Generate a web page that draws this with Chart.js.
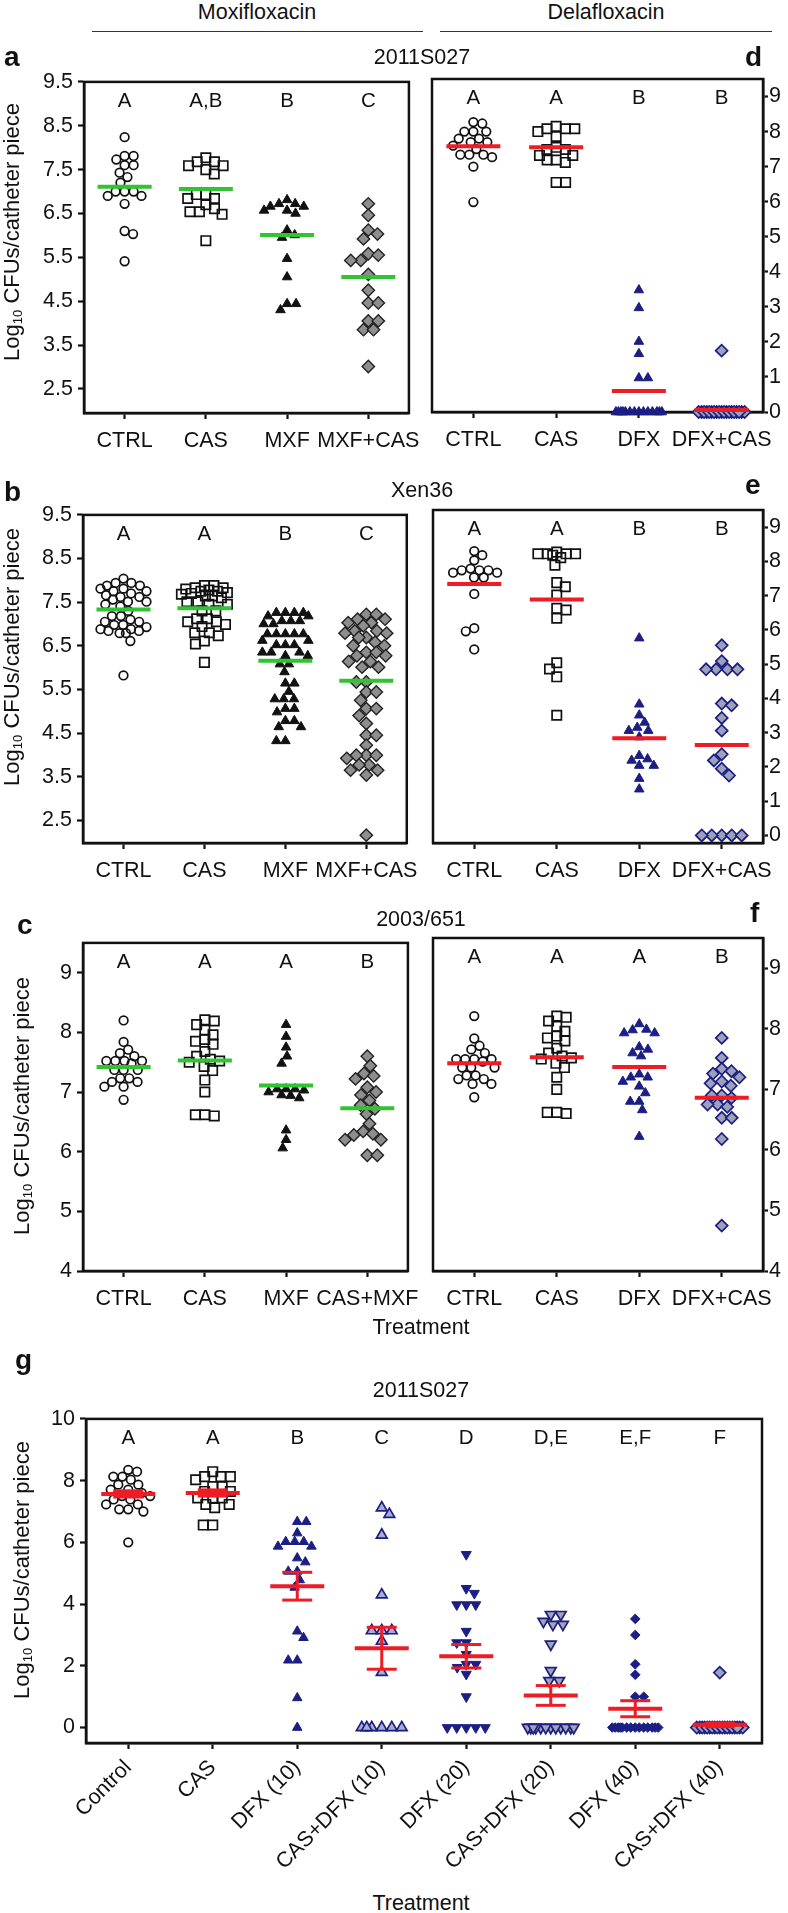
<!DOCTYPE html>
<html>
<head>
<meta charset="utf-8">
<script src="https://cdn.jsdelivr.net/npm/chart.js@4.4.1/dist/chart.umd.min.js"></script>
<style>
body{margin:0;background:#fff;width:788px;height:1913px;position:relative;overflow:hidden;font-family:"Liberation Sans",Arial,sans-serif;color:#111}
.box{position:absolute}
.t{position:absolute;white-space:nowrap;font-size:21.5px;line-height:22px;transform:translateX(-50%);z-index:2}
.ltr{position:absolute;font-weight:bold;font-size:28px;line-height:28px;z-index:2}
.rule{position:absolute;height:0;border-top:1.4px solid #333}
.yt{position:absolute;white-space:nowrap;font-size:22px;line-height:22px;transform:translate(-50%,-50%) rotate(-90deg);z-index:2}
.yt sub{font-size:13px;vertical-align:-3px}
</style>
</head>
<body>
<div class="t" style="left:257px;top:1px">Moxifloxacin</div>
<div class="rule" style="left:92px;top:31px;width:331px"></div>
<div class="t" style="left:606px;top:1px">Delafloxacin</div>
<div class="rule" style="left:440px;top:31px;width:332px"></div>

<div class="ltr" style="left:4px;top:43px">a</div>
<div class="ltr" style="left:745px;top:43px">d</div>
<div class="t" style="left:422px;top:46px">2011S027</div>

<div class="ltr" style="left:4px;top:478px">b</div>
<div class="ltr" style="left:745px;top:471px">e</div>
<div class="t" style="left:422px;top:479px">Xen36</div>

<div class="ltr" style="left:17px;top:911px">c</div>
<div class="ltr" style="left:750px;top:899px">f</div>
<div class="t" style="left:421px;top:908px">2003/651</div>
<div class="t" style="left:421px;top:1316px">Treatment</div>

<div class="ltr" style="left:15px;top:1346px">g</div>
<div class="t" style="left:421px;top:1379px">2011S027</div>
<div class="t" style="left:421px;top:1892px">Treatment</div>

<div class="yt" style="left:15px;top:232px">Log<sub>10</sub> CFUs/catheter piece</div>
<div class="yt" style="left:15px;top:657px">Log<sub>10</sub> CFUs/catheter piece</div>
<div class="yt" style="left:25px;top:1106px">Log<sub>10</sub> CFUs/catheter piece</div>
<div class="yt" style="left:25px;top:1570px">Log<sub>10</sub> CFUs/catheter piece</div>

<script>
// ---- data (log10 CFU per catheter piece) ----
const catsMox = ['CTRL', 'CAS', 'MXF', 'MXF+CAS'];
const catsDela = ['CTRL', 'CAS', 'DFX', 'DFX+CAS'];
const catsC = ['CTRL', 'CAS', 'MXF', 'CAS+MXF'];
const catsG = ['Control', 'CAS', 'DFX (10)', 'CAS+DFX (10)', 'DFX (20)', 'CAS+DFX (20)', 'DFX (40)', 'CAS+DFX (40)'];

const ticksMox = [2.5, 3.5, 4.5, 5.5, 6.5, 7.5, 8.5, 9.5];
const ticksDela = [0, 1, 2, 3, 4, 5, 6, 7, 8, 9];
const ticksCF = [4, 5, 6, 7, 8, 9];
const ticksG = [0, 2, 4, 6, 8, 10];

// a: 2011S027, moxifloxacin
const aCtrl = [8.24, 7.81, 7.81, 7.73, 7.6, 7.6, 7.43, 7.33, 7.2, 7.0, 7.0, 7.0, 6.9, 6.9, 6.72, 6.1, 6.03, 5.41];
const aCas = [7.77, 7.68, 7.68, 7.59, 7.59, 7.5, 7.4, 6.93, 6.93, 6.84, 6.84, 6.7, 6.61, 6.54, 6.54, 6.48, 5.88];
const aMxf = [6.81, 6.72, 6.72, 6.66, 6.66, 6.57, 6.57, 6.5, 6.12, 6.01, 5.95, 5.47, 5.05, 4.44, 4.44, 4.3];
const aMxfCas = [6.72, 6.46, 6.12, 6.03, 5.92, 5.58, 5.55, 5.43, 5.43, 5.11, 4.75, 4.46, 4.46, 4.05, 4.05, 3.85, 3.85, 3.01];
const aMeans = [7.11, 7.06, 6.01, 5.05];
const aLetters = ['A', 'A,B', 'B', 'C'];

// d: 2011S027, delafloxacin
const dCtrl = [8.27, 8.23, 8.0, 8.0, 8.0, 7.8, 7.8, 7.7, 7.7, 7.6, 7.5, 7.34, 7.34, 7.34, 7.27, 7.0, 5.99];
const dCas = [8.15, 8.08, 8.08, 8.08, 8.0, 7.86, 7.55, 7.49, 7.49, 7.32, 7.32, 7.19, 7.19, 7.12, 6.55, 6.55];
const dDfx = [3.48, 2.97, 2.01, 1.66, 0.97, 0.97, 0, 0, 0, 0, 0, 0, 0, 0, 0, 0, 0, 0, 0, 0];
const dDfxCas = [1.75, 0, 0, 0, 0, 0, 0, 0, 0, 0, 0, 0, 0, 0, 0, 0, 0, 0, 0, 0];
const dMeans = [7.58, 7.55, 0.6, 0.06];
const dLetters = ['A', 'A', 'B', 'B'];

// b: Xen36, moxifloxacin
const bCtrl = [8.04, 7.94, 7.94, 7.88, 7.88, 7.81, 7.81, 7.75, 7.75, 7.7, 7.66, 7.62, 7.62, 7.56, 7.51, 7.51, 7.45, 7.4,
  7.3, 7.18, 7.18, 7.1, 7.05, 7.05, 6.98, 6.98, 6.93, 6.88, 6.88, 6.84, 6.84, 6.79, 6.79, 6.61, 5.82];
const bCas = [7.88, 7.88, 7.83, 7.83, 7.8, 7.78, 7.75, 7.75, 7.72, 7.7, 7.68, 7.64, 7.64, 7.6, 7.51, 7.51, 7.45, 7.45,
  7.3, 7.3, 7.12, 7.12, 7.05, 7.05, 6.99, 6.94, 6.8, 6.8, 6.73, 6.61, 6.54, 6.12];
const bMxf = [7.26, 7.26, 7.26, 7.26, 7.18, 7.18, 7.07, 7.07, 7.07, 7.0, 7.0, 6.77, 6.77, 6.77, 6.77, 6.77, 6.62, 6.62,
  6.52, 6.52, 6.52, 6.35, 6.35, 6.35, 6.27, 6.27, 6.08, 6.08, 5.9, 5.64, 5.64, 5.45, 5.28, 5.28, 5.28, 5.06, 5.06,
  4.98, 4.78, 4.78, 4.64, 4.64, 4.32, 4.32];
const bMxfCas = [7.22, 7.22, 7.11, 7.11, 7.03, 7.03, 6.96, 6.84, 6.84, 6.79, 6.79, 6.69, 6.69, 6.58, 6.5, 6.5, 6.35, 6.35,
  6.27, 6.27, 6.14, 6.14, 6.01, 6.01, 5.67, 5.67, 5.44, 5.44, 5.25, 5.06, 5.06, 4.9, 4.72, 4.45, 4.45, 4.22, 3.99, 3.99,
  3.99, 3.92, 3.77, 3.77, 3.65, 3.65, 3.54, 2.16];
const bMeans = [7.33, 7.36, 6.16, 5.7];
const bLetters = ['A', 'A', 'B', 'C'];

// e: Xen36, delafloxacin
const eCtrl = [8.3, 8.18, 8.03, 7.79, 7.74, 7.74, 7.74, 7.67, 7.67, 7.53, 7.53, 7.05, 6.05, 5.96, 5.43];
const eCas = [8.27, 8.22, 8.22, 8.22, 8.22, 8.18, 8.11, 7.89, 7.38, 7.26, 7.02, 6.63, 6.58, 6.34, 5.04, 4.86, 4.63, 3.51];
const eDfx = [5.76, 3.83, 3.51, 3.3, 3.15, 3.06, 3.06, 2.87, 2.33, 2.23, 2.19, 2.04, 2.04, 1.66, 1.35];
const eDfxCas = [5.55, 5.09, 4.85, 4.85, 4.85, 4.85, 3.85, 3.8, 3.43, 3.06, 2.37, 2.19, 1.95, 1.75, 0, 0, 0, 0, 0];
const eMeans = [7.34, 6.89, 2.84, 2.64];
const eLetters = ['A', 'A', 'B', 'B'];

// c: 2003/651, moxifloxacin
const cCtrl = [8.2, 7.84, 7.71, 7.65, 7.6, 7.52, 7.52, 7.52, 7.52, 7.48, 7.37, 7.37, 7.37, 7.23, 7.23, 7.17, 7.17, 7.09, 7.09, 6.87];
const cCas = [8.21, 8.19, 8.13, 8.04, 7.96, 7.88, 7.85, 7.8, 7.68, 7.6, 7.55, 7.52, 7.5, 7.43, 7.36, 7.2, 7.0, 6.62, 6.62, 6.6];
const cMxf = [8.13, 7.93, 7.75, 7.6, 7.48, 7.05, 7.05, 7.05, 7.03, 7.0, 6.95, 6.94, 6.9, 6.36, 6.2, 6.06];
const cCasMxf = [7.6, 7.44, 7.31, 7.27, 7.22, 7.08, 7.0, 6.95, 6.86, 6.78, 6.72, 6.63, 6.47, 6.34, 6.3, 6.28, 6.2, 6.2, 5.94, 5.94];
const cMeans = [7.42, 7.53, 7.11, 6.73];
const cLetters = ['A', 'A', 'A', 'B'];

// f: 2003/651, delafloxacin
const fCtrl = [8.21, 7.84, 7.72, 7.66, 7.6, 7.5, 7.5, 7.5, 7.5, 7.46, 7.36, 7.36, 7.36, 7.23, 7.23, 7.17, 7.17, 7.09, 7.09, 6.87];
const fCas = [8.21, 8.19, 8.13, 8.04, 7.96, 7.88, 7.85, 7.8, 7.68, 7.6, 7.55, 7.52, 7.5, 7.43, 7.36, 7.2, 7.0, 6.62, 6.62, 6.6];
const fDfx = [8.08, 7.99, 7.98, 7.93, 7.93, 7.7, 7.66, 7.6, 7.55, 7.25, 7.2, 7.2, 7.13, 7.05, 6.94, 6.8, 6.8, 6.66, 6.22];
const fDfxCas = [7.85, 7.52, 7.34, 7.3, 7.26, 7.2, 7.13, 7.1, 7.06, 6.9, 6.9, 6.86, 6.75, 6.75, 6.71, 6.53, 6.53, 6.18, 4.75];
const fMeans = [7.43, 7.53, 7.37, 6.86];
const fLetters = ['A', 'A', 'A', 'B'];

// g: 2011S027, delafloxacin dose series (mean +/- SEM)
const gControl = [8.35, 8.29, 8.13, 8.13, 8.03, 7.87, 7.87, 7.71, 7.71, 7.6, 7.5, 7.5, 7.39, 7.39, 7.23, 7.23, 7.07, 7.07, 7.0, 6.0];
const gCas = [8.29, 8.13, 8.13, 8.13, 8.03, 7.81, 7.81, 7.65, 7.65, 7.44, 7.44, 7.44, 7.23, 7.23, 7.12, 6.56, 6.56];
const gDfx10 = [6.67, 6.67, 6.3, 6.02, 6.02, 6.02, 5.87, 5.87, 5.49, 5.36, 5.06, 5.06, 4.78, 4.54, 3.12, 2.91, 2.18, 2.18, 0.96, 0];
const gCasDfx10 = [7.12, 6.91, 6.24, 4.3, 3.14, 3.14, 3.14, 2.8, 1.79, 0, 0, 0, 0, 0, 0];
const gDfx20 = [5.61, 4.51, 4.35, 3.98, 3.98, 3.98, 3.12, 2.75, 2.75, 2.37, 2.05, 2.05, 1.95, 1.73, 1.0, 0, 0, 0, 0, 0];
const gCasDfx20 = [3.66, 3.66, 3.44, 3.34, 3.34, 2.7, 1.84, 1.52, 1.52, 0, 0, 0, 0, 0, 0, 0, 0, 0, 0, 0, 0];
const gDfx40 = [3.52, 3.0, 2.05, 1.71, 1.0, 1.0, 0, 0, 0, 0, 0, 0, 0, 0, 0, 0, 0, 0, 0, 0];
const gCasDfx40 = [1.78, 0, 0, 0, 0, 0, 0, 0, 0, 0, 0, 0, 0, 0, 0, 0, 0, 0, 0, 0];
const gMeans = [7.57, 7.6, 4.58, 2.57, 2.31, 1.04, 0.61, 0.09];
const gSem = [0.1, 0.1, 0.45, 0.68, 0.38, 0.32, 0.26, 0.06];
const gLetters = ['A', 'A', 'B', 'C', 'D', 'D,E', 'E,F', 'F'];

// ---- styles ----
const FONT = '"Liberation Sans", Arial, sans-serif';
const FS = 21.5;
const INK = '#111';
const NAVY = '#1b1f84';
const GREEN = '#33c233';
const RED = '#ee1d25';
Chart.defaults.font.family = FONT;
Chart.defaults.color = INK;

const mk = {
  circle: { shape: 'circle', r: 4.3, fill: 'rgba(0,0,0,0)', edge: INK, bw: 1.7, rot: 0, gap: 9 },
  square: { shape: 'rect', r: 6.6, fill: 'rgba(0,0,0,0)', edge: INK, bw: 1.7, rot: 0, gap: 9.5 },
  triBlack: { shape: 'triangle', r: 5.5, fill: INK, edge: INK, bw: 1, rot: 0, gap: 9 },
  diaGray: { shape: 'rectRot', r: 6.2, fill: '#8e8e8e', edge: '#222', bw: 1.4, rot: 0, gap: 10 },
  triNavy: { shape: 'triangle', r: 5.5, fill: NAVY, edge: NAVY, bw: 1, rot: 0, gap: 9 },
  diaBlue: { shape: 'rectRot', r: 6, fill: '#9da1b9', edge: NAVY, bw: 1.7, rot: 0, gap: 10 },
  triLav: { shape: 'triangle', r: 6.2, fill: '#a9aed0', edge: NAVY, bw: 1.7, rot: 0, gap: 10 },
  invNavy: { shape: 'triangle', r: 5.8, fill: NAVY, edge: NAVY, bw: 1, rot: 180, gap: 9.5 },
  invGray: { shape: 'triangle', r: 6.2, fill: '#a2a4b4', edge: NAVY, bw: 1.7, rot: 180, gap: 10 },
  diaNavy: { shape: 'rectRot', r: 4.8, fill: NAVY, edge: NAVY, bw: 1, rot: 0, gap: 8.5 }
};

const panels = [
  { L: 84, T: 78, R: 417, B: 413, xH: 47, side: 'left', yMin: 1.95, yMax: 9.5, ticks: ticksMox, cats: catsMox,
    groups: [aCtrl, aCas, aMxf, aMxfCas], marks: [mk.circle, mk.square, mk.triBlack, mk.diaGray],
    means: aMeans, letters: aLetters, color: GREEN },
  { L: 432, T: 79, R: 763, B: 412, xH: 47, side: 'right', yMin: 0, yMax: 9.5, ticks: ticksDela, cats: catsDela,
    groups: [dCtrl, dCas, dDfx, dDfxCas], marks: [mk.circle, mk.square, mk.triNavy, mk.diaBlue],
    means: dMeans, letters: dLetters, color: RED },
  { L: 83, T: 511, R: 415, B: 843, xH: 47, side: 'left', yMin: 1.98, yMax: 9.5, ticks: ticksMox, cats: catsMox,
    groups: [bCtrl, bCas, bMxf, bMxfCas], marks: [mk.circle, mk.square, mk.triBlack, mk.diaGray],
    means: bMeans, letters: bLetters, color: GREEN },
  { L: 433, T: 510, R: 763, B: 843, xH: 47, side: 'right', yMin: -0.22, yMax: 9.5, ticks: ticksDela, cats: catsDela,
    groups: [eCtrl, eCas, eDfx, eDfxCas], marks: [mk.circle, mk.square, mk.triNavy, mk.diaBlue],
    means: eMeans, letters: eLetters, color: RED },
  { L: 83, T: 939, R: 416, B: 1271, xH: 47, side: 'left', yMin: 4, yMax: 9.5, ticks: ticksCF, cats: catsC,
    groups: [cCtrl, cCas, cMxf, cCasMxf], marks: [mk.circle, mk.square, mk.triBlack, mk.diaGray],
    means: cMeans, letters: cLetters, color: GREEN },
  { L: 433, T: 938, R: 763, B: 1271, xH: 47, side: 'right', yMin: 4, yMax: 9.5, ticks: ticksCF, cats: catsDela,
    groups: [fCtrl, fCas, fDfx, fDfxCas], marks: [mk.circle, mk.square, mk.triNavy, mk.diaBlue],
    means: fMeans, letters: fLetters, color: RED },
  { L: 86, T: 1415, R: 762, B: 1743, xH: 140, side: 'left', yMin: -0.5, yMax: 10, ticks: ticksG, cats: catsG, rot: 45,
    groups: [gControl, gCas, gDfx10, gCasDfx10, gDfx20, gCasDfx20, gDfx40, gCasDfx40],
    marks: [mk.circle, mk.square, mk.triNavy, mk.triLav, mk.invNavy, mk.invGray, mk.diaNavy, mk.diaBlue],
    means: gMeans, sem: gSem, letters: gLetters, color: RED }
];

function seg(ctx, x1, y1, x2, y2) {
  ctx.beginPath(); ctx.moveTo(x1, y1); ctx.lineTo(x2, y2); ctx.stroke();
}

// frame, mean lines, SEM bars and group letters
const marksPlugin = {
  id: 'marks',
  beforeDatasetsDraw(chart, args, o) {
    const { ctx, chartArea: a } = chart;
    ctx.save();
    ctx.strokeStyle = INK; ctx.lineWidth = 2.5;
    ctx.strokeRect(a.left, a.top, a.right - a.left, a.bottom - a.top);
    ctx.restore();
  },
  afterDatasetsDraw(chart, args, o) {
    const { ctx, chartArea: a, scales: { x, y } } = chart;
    ctx.save();
    ctx.strokeStyle = o.color;
    o.means.forEach((m, i) => {
      const cx = x.getPixelForValue(i), cy = y.getPixelForValue(m);
      if (o.sem) {
        const t = y.getPixelForValue(m + o.sem[i]), b = y.getPixelForValue(m - o.sem[i]);
        ctx.lineWidth = 3;
        seg(ctx, cx, t, cx, b);
        seg(ctx, cx - 15, t, cx + 15, t);
        seg(ctx, cx - 15, b, cx + 15, b);
      }
      ctx.lineWidth = 4;
      seg(ctx, cx - 27, cy, cx + 27, cy);
    });
    ctx.fillStyle = INK;
    ctx.font = '20.5px ' + FONT;
    ctx.textAlign = 'center'; ctx.textBaseline = 'middle';
    o.letters.forEach((t, i) => ctx.fillText(t, x.getPixelForValue(i), a.top + 19));
    ctx.restore();
  }
};

// spread points of each group sideways (beeswarm) so they do not overlap
function swarm(chart, marks) {
  const xs = chart.scales.x, ys = chart.scales.y;
  const perCat = xs.getPixelForValue(1) - xs.getPixelForValue(0);
  const maxOff = 23;
  chart.data.datasets.forEach((ds, k) => {
    const gap = marks[k].gap;
    const pts = ds.data.map(p => ({ p, py: ys.getPixelForValue(p.y), px: 0 }));
    pts.sort((u, v) => u.py - v.py);
    const placed = [];
    pts.forEach(o => {
      const near = placed.filter(q => Math.abs(q.py - o.py) < gap);
      const cands = [0];
      near.forEach(q => {
        const w = Math.sqrt(gap * gap - (q.py - o.py) ** 2);
        cands.push(q.px + w, q.px - w);
      });
      const ok = cands.filter(c => Math.abs(c) <= maxOff + 0.01 &&
        near.every(q => Math.hypot(q.px - c, q.py - o.py) >= gap - 0.01));
      let px;
      if (ok.length) {
        const right = placed.filter(q => q.px > 0.5).length, left = placed.filter(q => q.px < -0.5).length;
        ok.sort((u, v) => Math.abs(u) - Math.abs(v) || (right > left ? u - v : v - u));
        px = ok[0];
      } else {
        let best = 0, bestS = -1;
        for (let c = -maxOff; c <= maxOff; c += 0.5) {
          const s = Math.min(...near.map(q => Math.hypot(q.px - c, q.py - o.py)));
          if (s > bestS + 0.01) { bestS = s; best = c; }
        }
        px = best;
      }
      o.px = px;
      placed.push(o);
      o.p.x = o.p.x + px / perCat;
    });
  });
  chart.update('none');
}

function makePanel(p) {
  const right = p.side === 'right';
  const padT = 14, padS = 13;
  const left = right ? p.L - padS : 0;
  const width = right ? 788 - left : p.R + padS;
  const top = p.T - padT;
  const height = p.B + p.xH - top;
  const yW = right ? 788 - p.R : p.L;
  const rot = p.rot || 0;

  const div = document.createElement('div');
  div.className = 'box';
  div.style.left = left + 'px';
  div.style.top = top + 'px';
  const cv = document.createElement('canvas');
  cv.width = width; cv.height = height;
  div.appendChild(cv);
  document.body.appendChild(div);

  const datasets = p.groups.map((vals, i) => ({
    data: vals.map(v => ({ x: i, y: v })),
    showLine: false,
    clip: false,
    pointStyle: p.marks[i].shape,
    pointRadius: p.marks[i].r,
    pointHoverRadius: p.marks[i].r,
    pointRotation: p.marks[i].rot,
    pointBackgroundColor: p.marks[i].fill,
    pointBorderColor: p.marks[i].edge,
    pointBorderWidth: p.marks[i].bw
  }));

  const chart = new Chart(cv, {
    type: 'scatter',
    data: { datasets },
    options: {
      responsive: false,
      animation: false,
      events: [],
      layout: { padding: { top: padT, left: right ? padS : 0, right: right ? 0 : padS, bottom: 0 } },
      plugins: {
        legend: { display: false },
        tooltip: { enabled: false },
        marks: { means: p.means, sem: p.sem, letters: p.letters, color: p.color }
      },
      scales: {
        x: {
          type: 'linear',
          min: -0.5, max: p.cats.length - 0.5,
          afterBuildTicks: s => { s.ticks = p.cats.map((c, i) => ({ value: i })); },
          afterFit: s => { s.height = p.xH; },
          ticks: {
            autoSkip: false, minRotation: rot, maxRotation: rot,
            padding: rot ? 6 : 9,
            font: { size: FS }, color: INK,
            callback: (v, i) => p.cats[i]
          },
          grid: { display: true, drawOnChartArea: false, drawTicks: true, tickLength: 6, tickWidth: 2.2, tickColor: INK },
          border: { display: true, color: INK, width: 2.5 }
        },
        y: {
          position: right ? 'right' : 'left',
          min: p.yMin, max: p.yMax,
          afterBuildTicks: s => { s.ticks = p.ticks.map(v => ({ value: v })); },
          afterFit: s => { s.width = yW; },
          ticks: { padding: right ? 1 : 5, font: { size: FS }, color: INK, callback: v => String(v) },
          grid: { display: true, drawOnChartArea: false, drawTicks: true, tickLength: right ? 5 : 6, tickWidth: 2.2, tickColor: INK },
          border: { display: true, color: INK, width: 2.5 }
        }
      }
    },
    plugins: [marksPlugin]
  });
  swarm(chart, p.marks);
}

panels.forEach(makePanel);
</script>
</body>
</html>
